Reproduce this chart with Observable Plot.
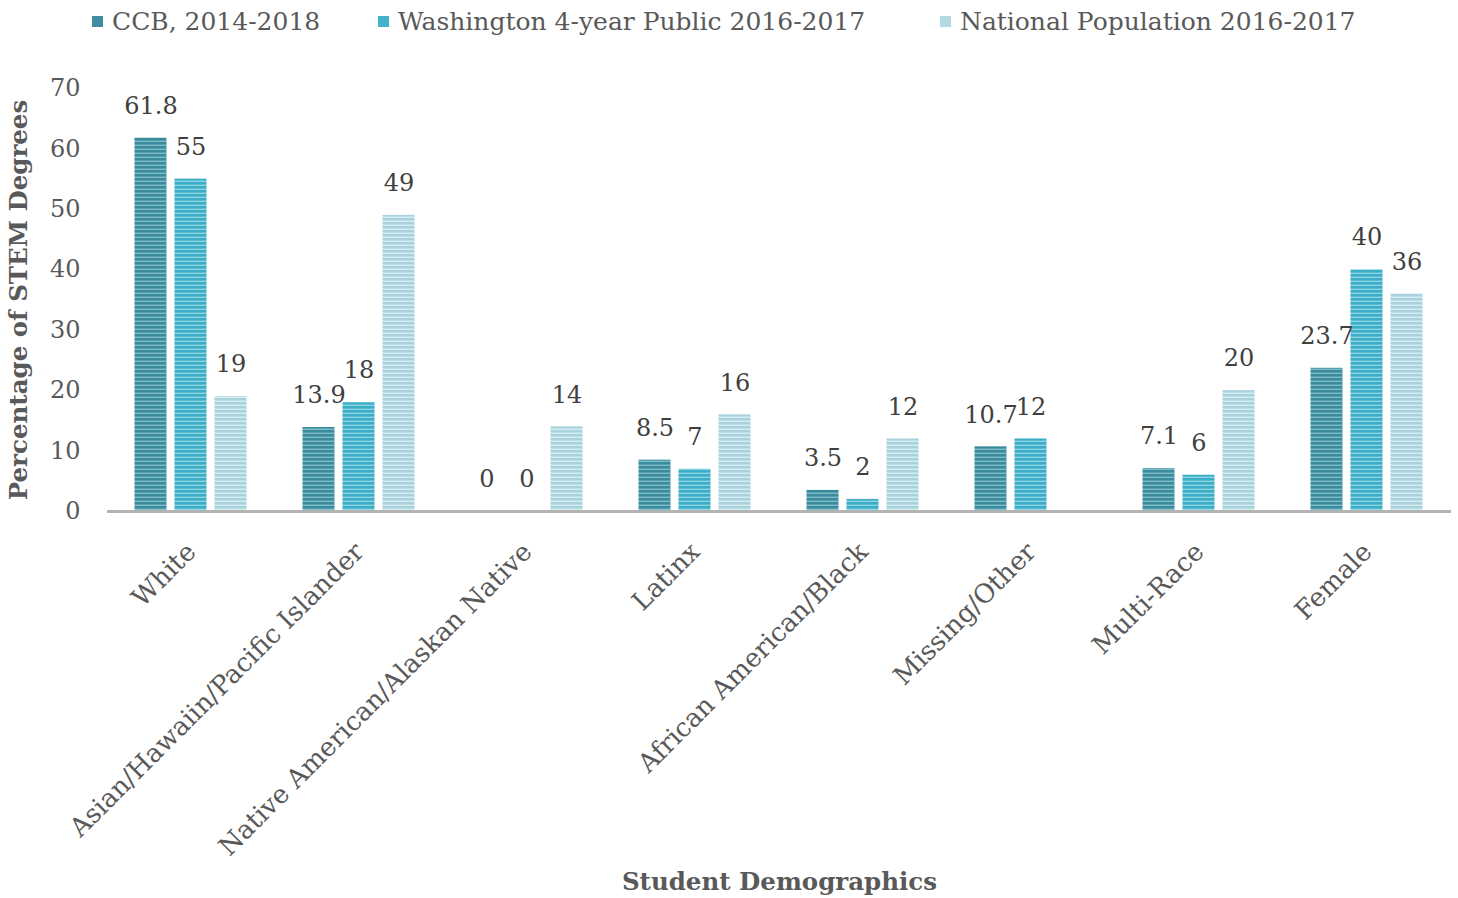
<!DOCTYPE html>
<html><head><meta charset="utf-8">
<script src="https://cdn.jsdelivr.net/npm/d3@7"></script>
<script src="https://cdn.jsdelivr.net/npm/@observablehq/plot@0.6"></script>
<style>
body{margin:0;background:#fff;font-family:"DejaVu Serif",serif;}
#legend{position:relative;height:46px;color:#595959;font-size:25px;}
.item{position:absolute;top:6px;white-space:nowrap;line-height:32px;}
.sw{display:inline-block;width:11px;height:11px;margin-right:9px;vertical-align:middle;position:relative;top:-2px}
g[aria-label="y-axis label"] text, g[aria-label="fx-axis label"] text{font-weight:bold;fill:#595959;font-size:24.5px}
</style>
</head><body>
<div id="legend"></div>
<div id="chart"></div>
<script>
const categories = ["White","Asian/Hawaiin/Pacific Islander","Native American/Alaskan Native","Latinx","African American/Black","Missing/Other","Multi-Race","Female"];
const series = ["CCB, 2014-2018","Washington 4-year Public 2016-2017","National Population 2016-2017"];
const ccb = [61.8,13.9,0,8.5,3.5,10.7,7.1,23.7];
const wa  = [55,18,0,7,2,12,6,40];
const nat = [19,49,14,16,12,null,20,36];
const yTicks = [0,10,20,30,40,50,60,70];
const darkColors  = ["#3a8c9d","#3aaec7","#a9d2dd"];
const lightColors = ["#7fbcc8","#8dd3e2","#d6edf2"];
const swatchColors = ["#3f8fa0","#44b2c9","#b3d9e3"];
const legendLeft = [92,378,940];

const data = [];
categories.forEach((c,i)=>{
  [ccb,wa,nat].forEach((arr,j)=>{
    if(arr[i]!=null) data.push({category:c, series:series[j], value:arr[i]});
  });
});

// legend
const lg = document.getElementById("legend");
series.forEach((s,i)=>{
  const it = document.createElement("div");
  it.className="item"; it.style.left = legendLeft[i]+"px";
  it.innerHTML = `<span class="sw" style="background:${swatchColors[i]}"></span>${s}`;
  lg.appendChild(it);
});

const patIds = series.map((s,i)=>"pat"+i);

const chart = Plot.plot({
  width:1458, height:852,
  marginTop:42, marginBottom:387, marginLeft:106.5, marginRight:7,
  style:{fontFamily:'"DejaVu Serif", serif', fontSize:"24px", color:"#595959", background:"#fff"},
  fx:{domain:categories, padding:0, label:null, axis:null},
  x:{domain:series, paddingInner:0.195, paddingOuter:0.647, axis:null},
  y:{domain:[0,70], axis:null},
  color:{domain:series, range:patIds.map(id=>`url(#${id})`)},
  marks:[
    Plot.barY(data,{fx:"category", x:"series", y:"value", fill:"series"}),
    Plot.ruleY([0],{stroke:"#b3b3b3", strokeWidth:3}),
    Plot.text(data,{fx:"category", x:"series", y:"value", text:d=>String(d.value), dy:-32, fill:"#404040", fontSize:24}),
    Plot.axisY({ticks:yTicks, tickSize:0, tickPadding:27, label:"Percentage of STEM Degrees", labelAnchor:"center", labelOffset:98, labelArrow:"none", fontSize:24}),
    Plot.axisFx({anchor:"bottom", tickRotate:-45, tickSize:0, tickPadding:36, label:"Student Demographics", labelAnchor:"center", labelOffset:378, labelArrow:"none", fontSize:26})
  ]
});
document.getElementById("chart").appendChild(chart);
const svg = chart.tagName.toLowerCase()==="svg" ? chart : chart.querySelector("svg");
const defs = d3.select(svg).insert("defs",":first-child");
patIds.forEach((id,i)=>{
  const p = defs.append("pattern").attr("id",id).attr("patternUnits","userSpaceOnUse").attr("width",8).attr("height",4);
  p.append("rect").attr("width",8).attr("height",4).attr("fill",lightColors[i]);
  p.append("rect").attr("width",8).attr("height",2.6).attr("fill",darkColors[i]);
});
d3.select(svg).selectAll('g[aria-label="y-axis tick label"] text, g[aria-label="fx-axis tick label"] text').attr("fill","#595959");
</script>
</body></html>
